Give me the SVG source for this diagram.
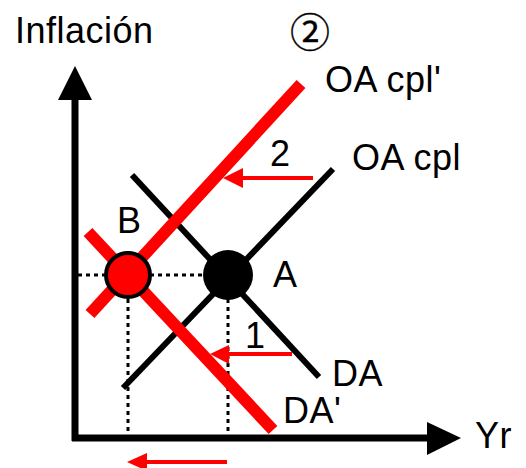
<svg xmlns="http://www.w3.org/2000/svg" width="526" height="468" viewBox="0 0 526 468">
<style>
text{font-family:"Liberation Sans",Arial,sans-serif;font-size:36px;fill:#000;letter-spacing:0.5px}
.blk{stroke:#000;stroke-width:6;fill:none}
.red{stroke:#f00;stroke-width:12;fill:none}
.dot{stroke:#000;stroke-width:3;stroke-dasharray:4 4;fill:none}
.rarr{stroke:#f00;stroke-width:4;fill:none}
</style>
<rect width="526" height="468" fill="#fff"/>
<g id="axes">
<line x1="75" y1="98" x2="75" y2="441" stroke="#000" stroke-width="7"/>
<polygon points="58,100 75,66 92,100" fill="#000"/>
<line x1="72" y1="438" x2="430" y2="438" stroke="#000" stroke-width="7"/>
<polygon points="427,422 461,438 427,455" fill="#000"/>
<text x="15" y="43">Inflación</text>
<text x="475" y="448">Yr</text>
</g>
<g id="connectors">
<line class="dot" x1="78" y1="275" x2="228" y2="275"/>
<line class="dot" x1="128" y1="275" x2="128" y2="436"/>
<line class="dot" x1="228" y1="275" x2="228" y2="436"/>
<line class="blk" x1="123" y1="388" x2="333" y2="169"/>
<line class="blk" x1="132" y1="175" x2="319" y2="377"/>
<line class="red" x1="90" y1="314" x2="301" y2="84"/>
<line class="red" x1="88" y1="232" x2="273" y2="430"/>
<line class="rarr" x1="313" y1="178" x2="240" y2="178"/>
<polygon points="223,178 243,168 243,188" fill="#f00"/>
<line class="rarr" x1="292" y1="354" x2="225" y2="354"/>
<polygon points="210,354 229,345 229,364" fill="#f00"/>
<line class="rarr" x1="227" y1="462" x2="144" y2="462"/>
<polygon points="127,462 147,453 147,471" fill="#f00"/>
</g>
<g id="A">
<circle cx="228" cy="275" r="25" fill="#000"/>
<text x="273" y="287">A</text>
</g>
<g id="B">
<circle cx="128" cy="275" r="22" fill="#f00" stroke="#000" stroke-width="4"/>
<text x="117" y="233">B</text>
</g>
<g id="labels">
<text x="310" y="47" text-anchor="middle" style="font-family:'Noto Sans CJK JP','DejaVu Sans',sans-serif;font-size:40px;letter-spacing:0;stroke:#000;stroke-width:0.35">②</text>
<text x="325" y="92">OA cpl'</text>
<text x="352" y="170">OA cpl</text>
<text x="270" y="166">2</text>
<text x="245" y="348">1</text>
<text x="332" y="386">DA</text>
<text x="283" y="423">DA'</text>
</g>
</svg>
